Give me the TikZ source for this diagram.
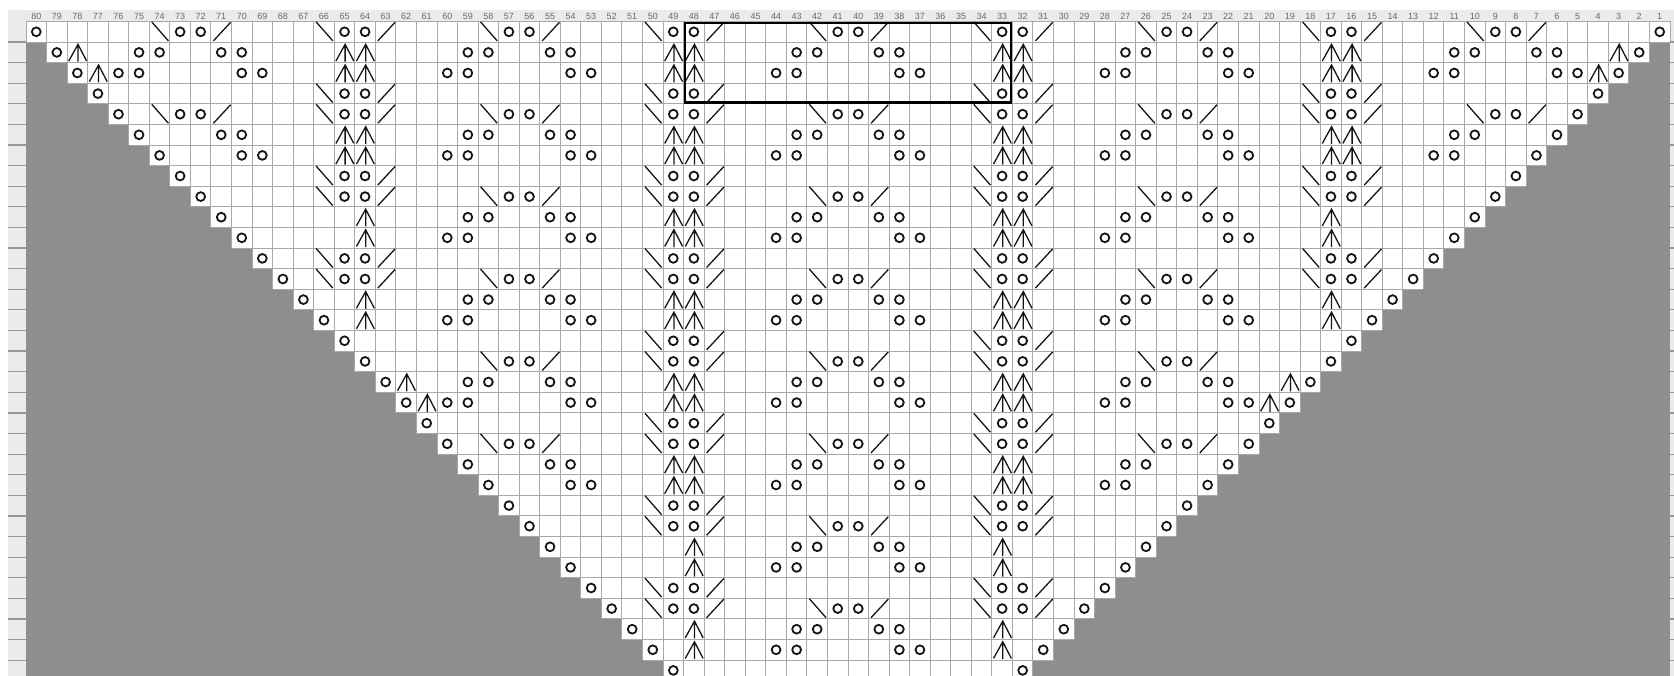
\documentclass[tikz,border=0pt]{standalone}
\usepackage{fontspec}
\setmainfont{Liberation Sans}
\usepackage{tikz}
\definecolor{chartgrey}{HTML}{8E8E8E}
\definecolor{chartline}{HTML}{A8A8A8}
\definecolor{chartpale}{HTML}{EBEBEB}
\definecolor{chartink}{HTML}{151515}
\definecolor{chartnum}{HTML}{6A6A6A}

\begin{document}
\begin{tikzpicture}[
  x=20.55pt, y=-20.6pt,
  cellline/.style={draw=chartline, line width=1pt},
  rowtick/.style={draw=chartline!90!black, line width=1.2pt},
  stitch/.style={draw=chartink, line width=1.3pt},
  yarnover/.style={draw=chartink, line width=1.8pt},
  repeatbox/.style={draw=black, line width=2.4pt},
  colnum/.style={font=\fontsize{9}{9}\selectfont, text=chartnum, inner sep=0pt},
  yo/.pic={\draw[yarnover] (0,0) circle[radius=4.4pt];},
  ssk/.pic={\draw[stitch] (-0.38,-0.48) -- (0.43,0.44);},
  ktog/.pic={\draw[stitch] (-0.38,0.44) -- (0.46,-0.46);},
  cdd/.pic={\draw[stitch] (-0.42,0.42) -- (0.03,-0.39) -- (0.45,0.42) (0.03,-0.39) -- (0.03,0.45);}
]
  \useasboundingbox (-1.26521,-1.04369) rectangle (80.1946,31.7718);
  \fill[white] (-1.26521,-1.04369) rectangle (80.1946,31.7718);
  \fill[chartpale] (-0.876,-0.558) rectangle (81,32);
  \fill[chartgrey] (0,0) rectangle (80,32);
  \foreach \rw in {1,...,31} {
    \draw[rowtick] (-0.876,\rw) -- (0,\rw);
    \draw[rowtick] (80,\rw) -- (81,\rw);
  }
  \foreach \j in {0,...,79} {
    \pgfmathtruncatemacro\cl{80-\j}
    \node[colnum] (num\cl) at (\j+0.5,-0.267) {\cl};
  }

  \foreach \i in {0,...,31} {
    \pgfmathtruncatemacro\k{80-\i}
    \fill[white] (\i,\i) rectangle (\k,\i+1);
    \draw[cellline] (\i,\i) -- (\k,\i) (\i,\i+1) -- (\k,\i+1);
    \foreach \j in {\i,...,\k} \draw[cellline] (\j,\i) -- (\j,\i+1);
  }

  \foreach \rw in {1,...,32} {
    \pic at (\rw-0.5,\rw-0.5) {yo};
    \pic at (80.5-\rw,\rw-0.5) {yo};
  }

  \foreach \rw/\cols in {1/{74,66,58,50,42,34,26,18,10}, 5/{74,66,58,50,42,34,26,18,10},
      9/{66,58,50,42,34,26,18}, 13/{66,58,50,42,34,26,18},
      17/{58,50,42,34,26}, 21/{58,50,42,34,26}, 25/{50,42,34}, 29/{50,42,34},
      4/{66,50,34,18}, 8/{66,50,34,18}, 12/{66,50,34,18},
      16/{50,34}, 20/{50,34}, 24/{50,34}, 28/{50,34}}
    \foreach \cl in \cols {
      \pic at (80.5-\cl,\rw-0.5) {ssk};
      \pic at (81.5-\cl,\rw-0.5) {yo};
      \pic at (82.5-\cl,\rw-0.5) {yo};
      \pic at (83.5-\cl,\rw-0.5) {ktog};
    }

  \foreach \rw/\cols in {2/{75,71,59,55,43,39,27,23,11,7}, 6/{71,59,55,43,39,27,23,11},
      10/{59,55,43,39,27,23}, 14/{59,55,43,39,27,23}, 18/{59,55,43,39,27,23},
      22/{55,43,39,27}, 26/{43,39}, 30/{43,39},
      3/{76,70,60,54,44,38,28,22,12,6}, 7/{70,60,54,44,38,28,22,12},
      11/{60,54,44,38,28,22}, 15/{60,54,44,38,28,22}, 19/{60,54,44,38,28,22},
      23/{54,44,38,28}, 27/{44,38}, 31/{44,38}}
    \foreach \cl in \cols {
      \pic at (80.5-\cl,\rw-0.5) {yo};
      \pic at (81.5-\cl,\rw-0.5) {yo};
    }

  \foreach \rw/\cols in {2/{78,65,64,49,48,33,32,17,16,3}, 3/{77,65,64,49,48,33,32,17,16,4},
      6/{65,64,49,48,33,32,17,16}, 7/{65,64,49,48,33,32,17,16},
      10/{64,49,48,33,32,17}, 11/{64,49,48,33,32,17},
      14/{64,49,48,33,32,17}, 15/{64,49,48,33,32,17},
      18/{62,49,48,33,32,19}, 19/{61,49,48,33,32,20},
      22/{49,48,33,32}, 23/{49,48,33,32},
      26/{48,33}, 27/{48,33}, 30/{48,33}, 31/{48,33}}
    \foreach \cl in \cols
      \pic at (80.5-\cl,\rw-0.5) {cdd};

  \draw[repeatbox] ([shift={(1.5pt,-1.5pt)}]32,0) rectangle ([shift={(-1.5pt,1.5pt)}]48,4);
\end{tikzpicture}
\end{document}
